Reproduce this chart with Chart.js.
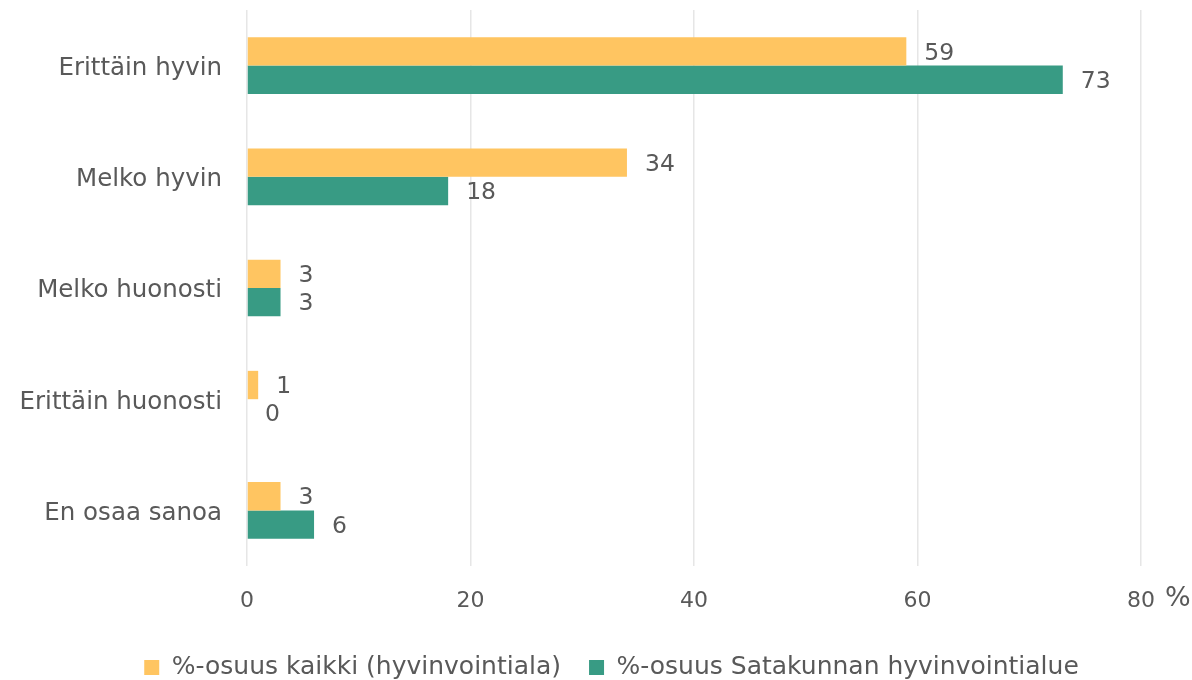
<!DOCTYPE html>
<html><head><meta charset="utf-8">
<script src="https://cdn.jsdelivr.net/npm/chart.js@4"></script>
<style>html,body{margin:0;padding:0;background:#fff}#wrap{width:1192px;height:680px;position:relative}</style>
</head><body><div id="wrap"><canvas id="c"></canvas></div>
<script>
const categories = ["Erittäin hyvin","Melko hyvin","Melko huonosti","Erittäin huonosti","En osaa sanoa"];
const seriesNames = ["%-osuus kaikki (hyvinvointiala)","%-osuus Satakunnan hyvinvointialue"];
const valuesKaikki = [59,34,3,1,3];
const valuesSatakunta = [73,18,3,0,6];
const xTicks = [0,20,40,60,80];
const unitLabel = "%";

const FONT = "'DejaVu Sans', 'Open Sans', sans-serif";
const TXT = "#595959";

const labelPlugin = {
  id:'valueLabels',
  afterInit(chart){
    const lg = chart.legend;
    if (lg && !lg._patched){
      const orig = lg.fit.bind(lg);
      lg.fit = function(){ orig(); this.height = 53; };
      lg._patched = true;
    }
  },
  afterLayout(chart){
    const lg = chart.legend;
    if (lg){ lg.left += 41; lg.right += 41; }
  },
  afterDatasetsDraw(chart){
    const ctx = chart.ctx;
    ctx.save();
    ctx.font = "23.5px " + FONT;
    ctx.fillStyle = TXT;
    ctx.textBaseline = 'middle';
    ctx.textAlign = 'left';
    chart.data.datasets.forEach((ds,i)=>{
      const meta = chart.getDatasetMeta(i);
      meta.data.forEach((bar,j)=>{
        ctx.fillText(String(ds.data[j]), bar.x + 18, bar.y + 2);
      });
    });
    const xs = chart.scales.x;
    ctx.font = "27px " + FONT;
    ctx.textBaseline = 'alphabetic';
    ctx.fillText(unitLabel, xs.right + 24, xs.top + 40);
    ctx.restore();
  }
};

new Chart(document.getElementById('c'), {
  type:'bar',
  data:{
    labels:categories,
    datasets:[
      {label:seriesNames[0], data:valuesKaikki, backgroundColor:'#FFC561'},
      {label:seriesNames[1], data:valuesSatakunta, backgroundColor:'#389B84'}
    ]
  },
  options:{
    indexAxis:'y',
    responsive:true,
    maintainAspectRatio:false,
    animation:false,
    layout:{padding:{top:10,right:51,left:0,bottom:0}},
    datasets:{bar:{categoryPercentage:0.51,barPercentage:1}},
    scales:{
      x:{
        min:0,max:80,
        afterBuildTicks(s){ s.ticks = xTicks.map(v=>({value:v})); },
        grid:{color:'#e6e6e6',lineWidth:1.5,drawTicks:false},
        border:{display:false},
        ticks:{color:TXT,font:{family:FONT,size:22},padding:22},
        afterFit(s){ s.height = 61; }
      },
      y:{
        grid:{display:false,drawTicks:false},
        border:{display:false},
        ticks:{color:TXT,font:{family:FONT,size:24.5},padding:25,labelOffset:3},
        afterFit(s){ s.width = 247; s.paddingTop = 0; s.paddingBottom = 0; }
      }
    },
    plugins:{
      legend:{
        position:'bottom',
        labels:{color:TXT,font:{family:FONT,size:25},boxWidth:15,boxHeight:15,padding:28}
      },
      tooltip:{enabled:false}
    }
  },
  plugins:[labelPlugin]
});
</script></body></html>
